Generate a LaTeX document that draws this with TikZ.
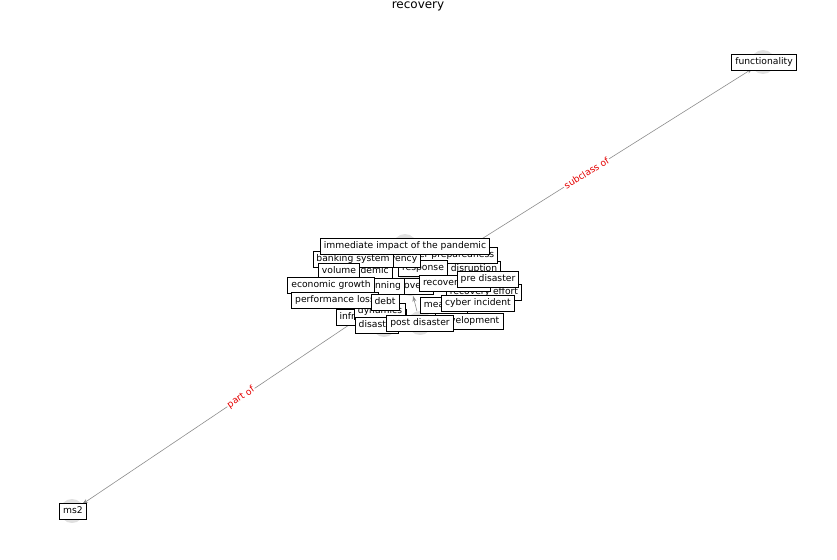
\documentclass[tikz,border=0pt]{standalone}
\usepackage{fontspec}
\setmainfont{DejaVu Sans}
\usetikzlibrary{arrows.meta}
\begin{document}
\begin{tikzpicture}
[x=1pt,y=-1pt,
dot/.style={circle,fill=black!12,minimum size=24pt,inner sep=0pt},
term/.style={draw=black,fill=white,line width=0.7pt,font=\fontsize{9.2}{10}\selectfont,
  text height=7pt,text depth=2pt,inner xsep=3.5pt,inner ysep=3.4pt},
link/.style={draw=black!45,line width=0.6pt,-{Stealth[length=6pt,width=4pt]}},
rel/.style={font=\fontsize{9.2}{10}\selectfont,text=red!90!black,fill=white,inner sep=1pt,sloped}]
\useasboundingbox (0,0) rectangle (837,559);
\node (title) at (418,6) {\fontsize{12}{14}\selectfont recovery};

% nodes
\node[dot] (functionality) at (763,62) {};
\node[dot] (ms2) at (72,511) {};
\node[dot] (recovery) at (410,284) {};
\node[dot] (immediate) at (405,246) {};
\node[dot] (preparedness) at (432,250) {};
\node[dot] (disaster) at (384,325) {};
\node[dot] (postdisaster) at (420,323) {};
\node[dot] (debt) at (385,302) {};

% edges
\draw[link] (recovery) -- node[rel] {subclass of} (functionality);
\draw[link] (recovery) -- node[rel] {part of} (ms2);
\draw[link] (debt) -- (recovery);
\draw[link] (postdisaster) -- (recovery);

% labels
\node[term] (l-infrastructure) at (371,317) {infrastructure};
\node[term] (l-dynamics) at (380,311) {dynamics};
\node[term] (l-disaster) at (377,325) {disaster};
\node[term] (l-development) at (469,321) {development};
\node[term] (l-measure) at (444,305) {measure};
\node[term] (l-effort) at (484,292) {recovery effort};
\node[term] (l-disruption) at (474,269) {disruption};
\node[term] (l-preparedness) at (443,255) {disaster preparedness};
\node[term] (l-pandemic) at (366,271) {pandemic};
\node[term] (l-recovery) at (410,286) {recovery};
\node[term] (l-planning) at (381,286) {planning};
\node[term] (l-response) at (423,268) {response};
\node[term] (l-solvency) at (397,259) {solvency};
\node[term] (l-banking) at (353,259) {banking system};
\node[term] (l-volume) at (339,271) {volume};
\node[term] (l-immediate) at (405,246) {immediate impact of the pandemic};
\node[term] (l-growth) at (331,285) {economic growth};
\node[term] (l-loss) at (335,300) {performance loss};
\node[term] (l-debt) at (385,302) {debt};
\node[term] (l-time) at (455,283) {recovery time};
\node[term] (l-predisaster) at (488,279) {pre disaster};
\node[term] (l-cyber) at (478,303) {cyber incident};
\node[term] (l-postdisaster) at (420,323) {post disaster};
\node[term] (l-functionality) at (764,62) {functionality};
\node[term] (l-ms2) at (73,511) {ms2};
\end{tikzpicture}
\end{document}
